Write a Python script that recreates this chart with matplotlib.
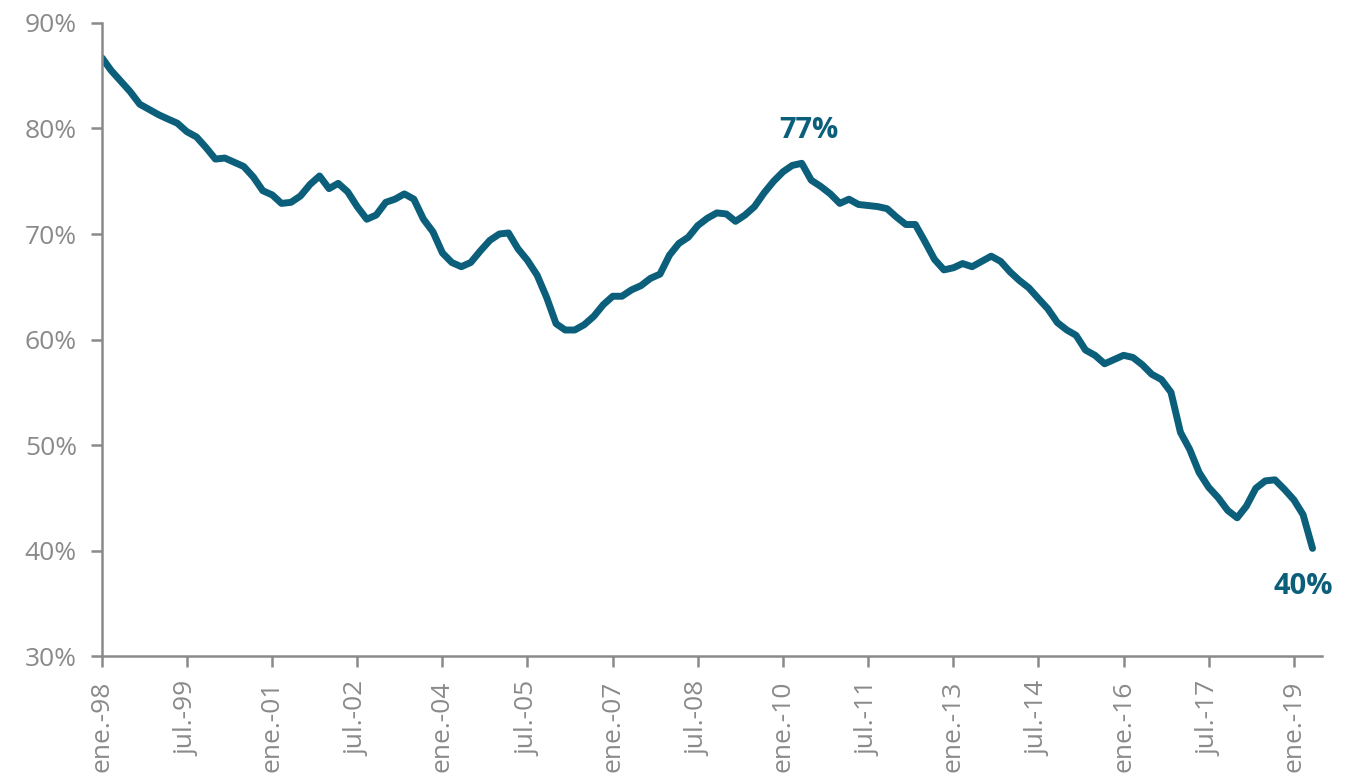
import matplotlib
matplotlib.use("Agg")
import matplotlib.pyplot as plt
import pandas as pd

# Serie bimestral (ene-98 a may-19), en %
valores = [
    86.7, 85.5, 84.5, 83.5, 82.3, 81.8, 81.3, 80.9, 80.5, 79.7,
    79.2, 78.2, 77.1, 77.2, 76.8, 76.4, 75.4, 74.1, 73.7, 72.9,
    73.0, 73.6, 74.7, 75.5, 74.3, 74.8, 74.0, 72.6, 71.4, 71.8,
    73.0, 73.3, 73.8, 73.3, 71.4, 70.2, 68.2, 67.3, 66.9, 67.3,
    68.4, 69.4, 70.0, 70.1, 68.6, 67.5, 66.1, 64.0, 61.5, 60.9,
    60.9, 61.4, 62.2, 63.3, 64.1, 64.1, 64.7, 65.1, 65.8, 66.2,
    68.0, 69.1, 69.7, 70.8, 71.5, 72.0, 71.9, 71.2, 71.8, 72.6,
    73.9, 75.0, 75.9, 76.5, 76.7, 75.1, 74.5, 73.8, 72.9, 73.3,
    72.8, 72.7, 72.6, 72.4, 71.6, 70.9, 70.9, 69.3, 67.6, 66.6,
    66.8, 67.2, 66.9, 67.4, 67.9, 67.4, 66.4, 65.6, 64.9, 63.9,
    62.9, 61.6, 60.9, 60.4, 59.0, 58.5, 57.7, 58.1, 58.5, 58.3,
    57.6, 56.7, 56.2, 55.0, 51.2, 49.6, 47.4, 46.0, 45.0, 43.8,
    43.1, 44.2, 45.9, 46.6, 46.7, 45.8, 44.8, 43.4, 40.2,
]
fechas = pd.date_range("1998-01-01", periods=len(valores), freq="2MS")

tick_fechas = pd.date_range("1998-01-01", "2019-01-01", freq="18MS")
tick_labels = ["ene.-98", "jul.-99", "ene.-01", "jul.-02", "ene.-04", "jul.-05",
               "ene.-07", "jul.-08", "ene.-10", "jul.-11", "ene.-13", "jul.-14",
               "ene.-16", "jul.-17", "ene.-19"]
y_ticks = [30, 40, 50, 60, 70, 80, 90]

color_linea = "#0b5f7a"
gris = "#8a8a8a"

plt.rcParams["font.family"] = ["Open Sans", "DejaVu Sans"]

fig = plt.figure(figsize=(13.49, 7.82), dpi=100)
ax = fig.add_axes([0.0756, 0.1611, 0.9044, 0.8095])

ax.plot(fechas, valores, color=color_linea, linewidth=5, solid_capstyle="round",
        solid_joinstyle="round")

# etiquetas: máximo de 2010 y último dato
tramo = valores[60:100]
i_max = 60 + tramo.index(max(tramo))
ax.annotate(f"{round(valores[i_max])}%", (fechas[i_max], valores[i_max]), xytext=(5, 13),
            textcoords="offset points", ha="center", va="bottom",
            fontsize=21, fontweight="bold", color=color_linea)
ax.annotate(f"{round(valores[-1])}%", (fechas[-1], valores[-1]), xytext=(-7, -17),
            textcoords="offset points", ha="center", va="top",
            fontsize=21, fontweight="bold", color=color_linea)

ax.set_ylim(30, 90)
ax.set_yticks(y_ticks)
ax.set_yticklabels([f"{v}%" for v in y_ticks])
ax.set_xlim(pd.Timestamp("1998-01-01"), pd.Timestamp("2019-07-01"))
ax.set_xticks(tick_fechas)
ax.set_xticklabels(tick_labels, rotation=90, ha="center", va="top")

for s in ["top", "right"]:
    ax.spines[s].set_visible(False)
for s in ["left", "bottom"]:
    ax.spines[s].set_color(gris)
    ax.spines[s].set_linewidth(1.8)
ax.tick_params(axis="both", colors=gris, labelcolor=gris, labelsize=19,
               length=8, width=1.8)
ax.tick_params(axis="x", pad=10)
ax.tick_params(axis="y", pad=10)

fig.savefig("out.png", dpi=100)
